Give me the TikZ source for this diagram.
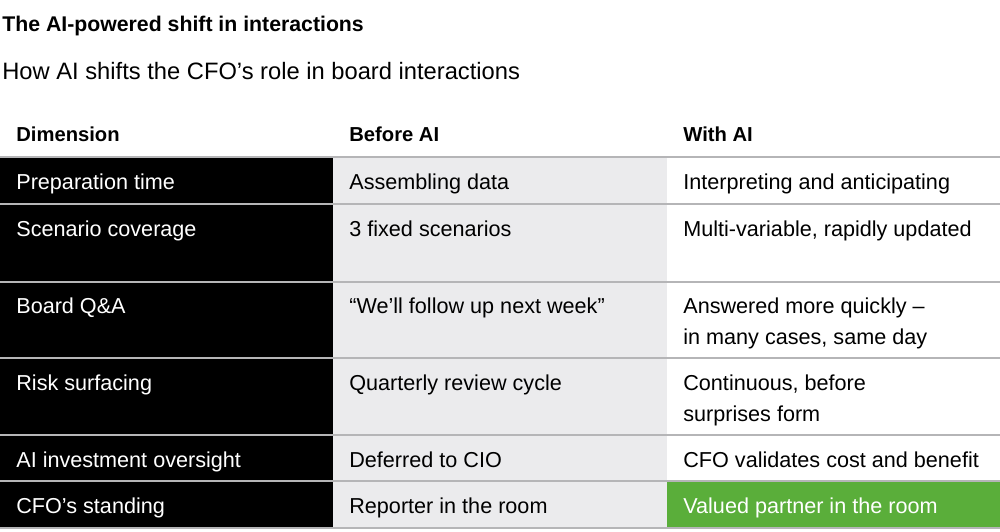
\documentclass[tikz,border=0pt]{standalone}
\usepackage{fontspec}
\setmainfont{Liberation Sans}
\usepackage{tikz}
\definecolor{rulegrey}{HTML}{B5B5B7}
\definecolor{cellgrey}{HTML}{EBEBED}
\definecolor{partnergreen}{HTML}{5AAE3A}
\begin{document}
\begin{tikzpicture}[x=0.02cm, y=-0.02cm,
    cell/.style={anchor=base west, inner sep=0pt, align=left, font=\fontsize{12.3}{17.6}\selectfont},
    dimcell/.style={cell, text=white},
    headcell/.style={anchor=base west, inner sep=0pt, font=\fontsize{11.5}{14}\selectfont\bfseries},
    rowrule/.style={draw=rulegrey, line width=1.1pt}]
    \useasboundingbox (0, 0) rectangle (1000, 531);
    % titles
    \node [anchor=base west, inner sep=0pt, font=\fontsize{12.1}{14}\selectfont\bfseries] (title) at (2, 31) {The AI-powered shift in interactions};
    \node [anchor=base west, inner sep=0pt, font=\fontsize{13.5}{16}\selectfont] (subtitle) at (2, 79) {How AI shifts the CFO's role in board interactions};
    % header
    \node [headcell] (hdim)    at (16, 141)  {Dimension};
    \node [headcell] (hbefore) at (349, 141) {Before AI};
    \node [headcell] (hwith)   at (683, 141) {With AI};
    % column fills
    \fill [black]        (0, 157)   rectangle (333, 528);
    \fill [cellgrey]     (333, 157) rectangle (667, 528);
    \fill [partnergreen] (667, 481) rectangle (1000, 528);
    % rules
    \draw [rowrule] (0, 157) -- (1000, 157);
    \draw [rowrule] (0, 204) -- (1000, 204);
    \draw [rowrule] (0, 282) -- (1000, 282);
    \draw [rowrule] (0, 358) -- (1000, 358);
    \draw [rowrule] (0, 435) -- (1000, 435);
    \draw [rowrule] (0, 481) -- (1000, 481);
    \draw [rowrule] (0, 528) -- (1000, 528);
    % preparation time
    \node [dimcell] (dim1)    at (16, 189)  {Preparation time};
    \node [cell]    (before1) at (349, 189) {Assembling data};
    \node [cell]    (with1)   at (683, 189) {Interpreting and anticipating};
    % scenario coverage
    \node [dimcell] (dim2)    at (16, 236)  {Scenario coverage};
    \node [cell]    (before2) at (349, 236) {3 fixed scenarios};
    \node [cell]    (with2)   at (683, 236) {Multi-variable, rapidly updated};
    % board q&a (two-line cell sits on its last line)
    \node [dimcell] (dim3)    at (16, 313)  {Board Q\&A};
    \node [cell]    (before3) at (349, 313) {“We'll follow up next week”};
    \node [cell]    (with3)   at (683, 344) {Answered more quickly –\\in many cases, same day};
    % risk surfacing
    \node [dimcell] (dim4)    at (16, 390)  {Risk surfacing};
    \node [cell]    (before4) at (349, 390) {Quarterly review cycle};
    \node [cell]    (with4)   at (683, 421) {Continuous, before\\surprises form};
    % ai investment oversight
    \node [dimcell] (dim5)    at (16, 467)  {AI investment oversight};
    \node [cell]    (before5) at (349, 467) {Deferred to CIO};
    \node [cell]    (with5)   at (683, 467) {CFO validates cost and benefit};
    % cfo's standing
    \node [dimcell] (dim6)    at (16, 513)  {CFO's standing};
    \node [cell]    (before6) at (349, 513) {Reporter in the room};
    \node [cell, text=white] (with6) at (683, 513) {Valued partner in the room};
\end{tikzpicture}
\end{document}
